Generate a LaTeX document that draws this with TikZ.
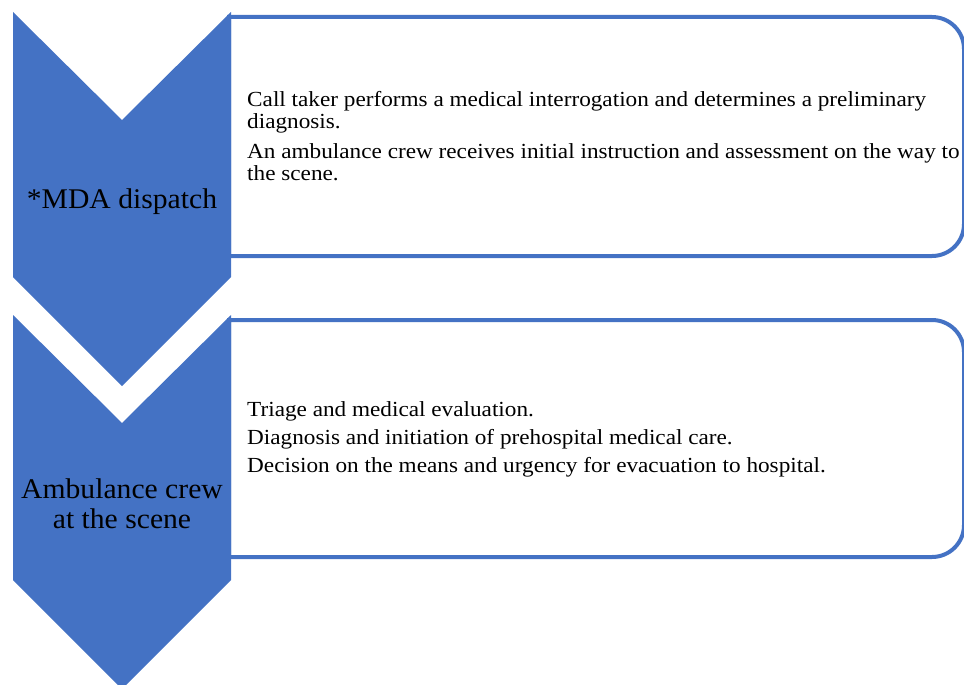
\documentclass[tikz,border=0pt]{standalone}
\usepackage{fontspec}
\setmainfont{Liberation Serif}
\newfontfamily\detailfont{Liberation Serif}[FakeStretch=1.08]
\newfontfamily\stagefont{Liberation Serif}[FakeStretch=1.04]
\definecolor{flowblue}{HTML}{4472C4}
\begin{document}
\begin{tikzpicture}[x=1pt,y=-1pt,
  chevron/.style={fill=flowblue,draw=none},
  stagebox/.style={draw=flowblue,line width=4pt,fill=white},
  stagelabel/.style={font=\stagefont\fontsize{28.5}{30}\selectfont,align=center,text=black,inner sep=0pt},
  detail/.style={font=\detailfont\fontsize{21.5}{22}\selectfont,align=left,text=black,anchor=north west,inner sep=0pt}]
\useasboundingbox (0,0) rectangle (964,685);
\clip (0,0) rectangle (964,685);

% detail panels with rounded right-hand corners
\draw[stagebox] (229,17) -- (932,17) arc(-90:0:32) -- (964,224) arc(0:90:32) -- (229,256) -- cycle;
\draw[stagebox] (229,320) -- (932,320) arc(-90:0:32) -- (964,525) arc(0:90:32) -- (229,557) -- cycle;

% downward chevrons
\fill[chevron] (13,12) -- (122,120) -- (231,12) -- (231,277) -- (122,386) -- (13,277) -- cycle;
\fill[chevron] (13,315) -- (122,423) -- (231,315) -- (231,580) -- (122,689) -- (13,580) -- cycle;

% stage names
\node[stagelabel] (dispatch) at (122,202) {*MDA dispatch};
\node[stagelabel] (scene) at (122,504) {Ambulance crew\\at the scene};

% stage details
\node[detail] (dispatchtext) at (247,91) {Call taker performs a medical interrogation and determines a preliminary\\diagnosis.\\[8pt]An ambulance crew receives initial instruction and assessment on the way to\\the scene.};
\node[detail] (scenetext) at (247,401) {Triage and medical evaluation.\\[6pt]Diagnosis and initiation of prehospital medical care.\\[6pt]Decision on the means and urgency for evacuation to hospital.};
\end{tikzpicture}
\end{document}
